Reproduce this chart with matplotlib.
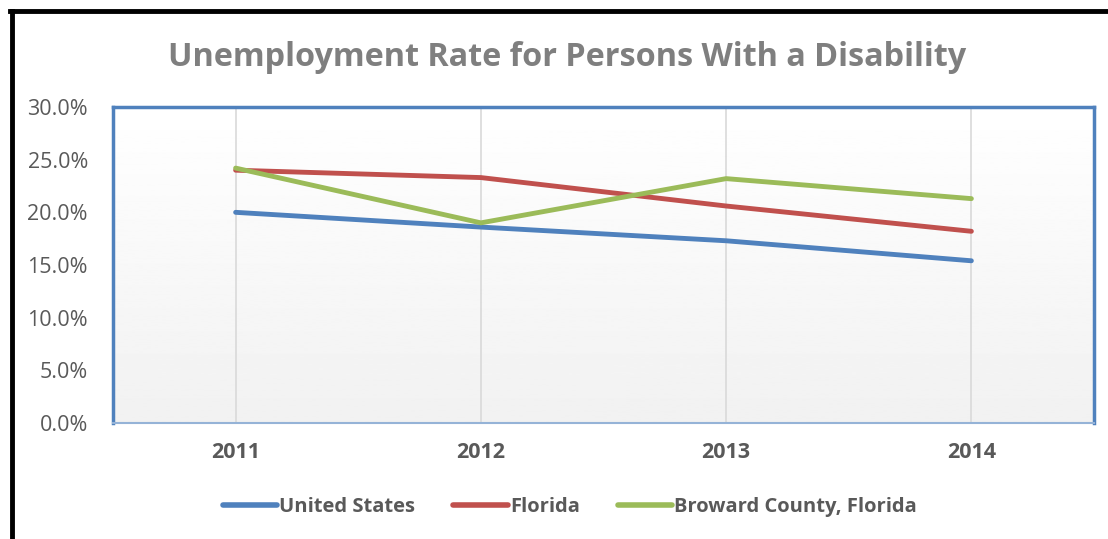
import numpy as np
import matplotlib
matplotlib.use('Agg')
import matplotlib.pyplot as plt
from matplotlib.lines import Line2D

years = ['2011', '2012', '2013', '2014']
united_states = [20.0, 18.6, 17.3, 15.4]
florida = [24.0, 23.3, 20.6, 18.2]
broward = [24.2, 19.0, 23.2, 21.3]

plt.rcParams['font.family'] = ['Open Sans', 'DejaVu Sans']

fig = plt.figure(figsize=(11.08, 5.39), dpi=100)
W, H = 1108, 539
ax = fig.add_axes([113 / W, 1 - 423 / H, (1094 - 113) / W, (423 - 107) / H])

# gradient plot background
grad = np.linspace(1.0, 0.945, 256).reshape(-1, 1)
ax.imshow(grad, cmap='gray', vmin=0, vmax=1, aspect='auto',
          extent=[0, 1, 0, 1], transform=ax.transAxes, zorder=0)

x = np.arange(len(years))
for xi in x:
    ax.axvline(xi, color='#d9d9d9', lw=1.2, zorder=1)

ax.plot(x, united_states, color='#4f81bd', lw=3.5, solid_capstyle='round', zorder=3, label='United States')
ax.plot(x, florida, color='#c0504d', lw=3.5, solid_capstyle='round', zorder=3, label='Florida')
ax.plot(x, broward, color='#9bbb59', lw=3.5, solid_capstyle='round', zorder=3, label='Broward County, Florida')

ax.set_xlim(-0.5, 3.5)
ax.set_ylim(0, 30)
ax.set_yticks(np.arange(0, 31, 5))
ax.set_yticklabels(['%.1f%%' % v for v in np.arange(0, 31, 5)], fontsize=15.5, color='#595959')
ax.set_xticks(x)
ax.set_xticklabels(years, fontsize=15.5, fontweight='bold', color='#595959')
ax.tick_params(length=0)
ax.tick_params(axis='x', pad=14)
ax.tick_params(axis='y', pad=18)

for s in ['left', 'top', 'right']:
    ax.spines[s].set_color('#4f81bd')
    ax.spines[s].set_linewidth(2.5)
ax.spines['bottom'].set_color('#95b3d7')
ax.spines['bottom'].set_linewidth(1.5)

fig.text(567 / W, 1 - 58 / H, 'Unemployment Rate for Persons With a Disability',
         ha='center', va='center', fontsize=23.3, fontweight='bold', color='#7f7f7f')

handles = [Line2D([], [], color=c, lw=4, solid_capstyle='round') for c in ['#4f81bd', '#c0504d', '#9bbb59']]
leg = fig.legend(handles, ['United States', 'Florida', 'Broward County, Florida'],
                 loc='center', bbox_to_anchor=(570 / W, 1 - 507 / H), ncol=3, frameon=False,
                 handlelength=2.7, handletextpad=0.1, columnspacing=1.9,
                 prop={'size': 14.5, 'weight': 'bold'})
for t in leg.get_texts():
    t.set_color('#595959')

# outer black frame (left and top)
fig.add_artist(Line2D([12 / W, 12 / W], [0, 1 - 11 / H], color='black', lw=3.5, transform=fig.transFigure))
fig.add_artist(Line2D([10 / W, 1], [1 - 11 / H, 1 - 11 / H], color='black', lw=3.5, transform=fig.transFigure))

fig.savefig('out.png', dpi=100)
